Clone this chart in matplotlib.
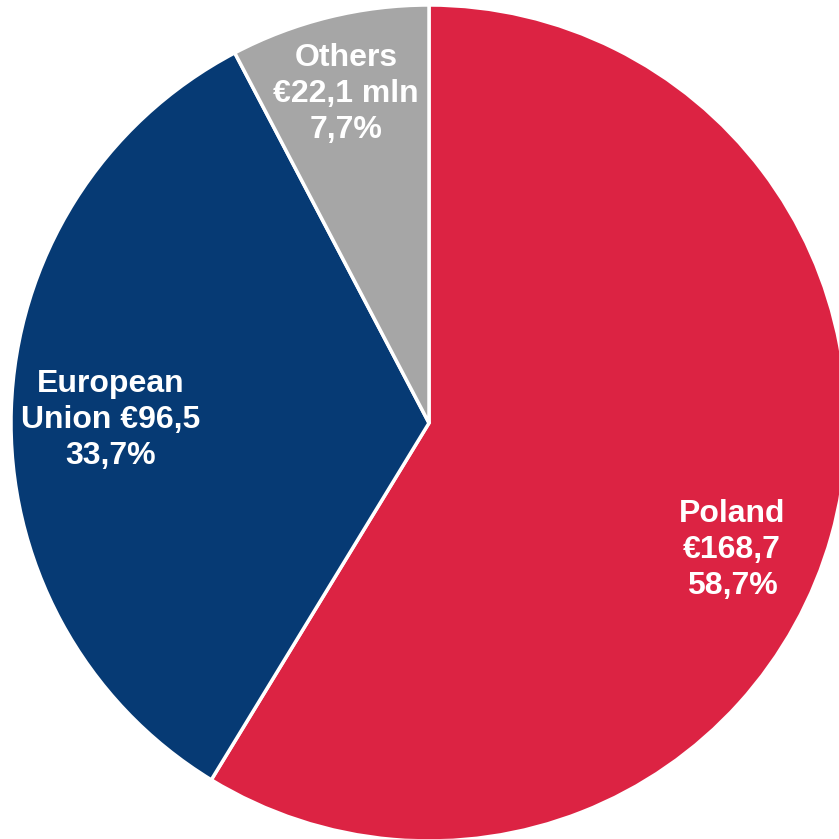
import matplotlib.pyplot as plt

# Data
labels = ["Poland\n€168,7\n58,7%", "European\nUnion €96,5\n33,7%", "Others\n€22,1 mln\n7,7%"]
values = [168.7, 96.5, 22.1]
colors = ["#DC2343", "#063A74", "#A6A6A6"]
label_pos = [(732, 289), (111, 419), (346, 745)]

plt.rcParams['font.family'] = ['Liberation Sans', 'DejaVu Sans']

fig = plt.figure(figsize=(8.39, 8.39), dpi=100)
ax = fig.add_axes([0, 0, 1, 1])
ax.pie(values, colors=colors, startangle=90, counterclock=False,
       radius=418, center=(429, 416),
       wedgeprops=dict(edgecolor="white", linewidth=2.5))

for txt, (x, y) in zip(labels, label_pos):
    ax.text(x, y, txt, ha="center", va="center", color="white",
            fontsize=23, fontweight="bold", linespacing=1.27)

ax.set_xlim(0, 839)
ax.set_ylim(0, 839)
ax.set_aspect("equal")
ax.axis('off')

fig.savefig("out.png", dpi=100)
